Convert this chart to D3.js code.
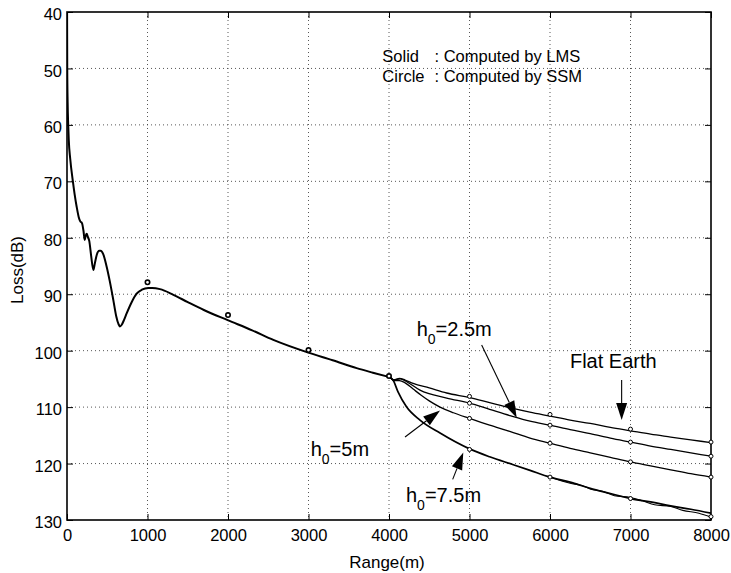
<!DOCTYPE html>
<html>
<head>
<meta charset="utf-8">
<script src="https://cdn.jsdelivr.net/npm/d3@7"></script>
<style>
  html, body { margin: 0; padding: 0; background: #fff; }
  svg { display: block; font-family: "Liberation Sans", Arial, Helvetica, sans-serif; }
</style>
</head>
<body>
<svg id="chart" width="731" height="573"></svg>
<script>
// ---------------- data ----------------
const xTicks = [0, 1000, 2000, 3000, 4000, 5000, 6000, 7000, 8000];
const yTicks = [40, 50, 60, 70, 80, 90, 100, 110, 120, 130];

// common LMS curve (range m, loss dB) up to 4000 m
const mainLMS = [
  [1, 40], [3, 50], [8, 56], [15, 60], [22, 62.7], [40, 66], [71, 69.8], [95, 72.3],
  [120, 74.5], [145, 76.3], [165, 77.1], [186, 77.4], [205, 78.8], [220, 80.4],
  [233, 79.6], [245, 79.3], [258, 79.8], [277, 80.6], [300, 83.2], [327, 85.7],
  [345, 84.6], [370, 83.0], [400, 82.3], [418, 82.3], [450, 82.9], [492, 85.1],
  [530, 87.6], [575, 91.0], [610, 93.8], [640, 95.3], [658, 95.7], [680, 95.4],
  [710, 94.5], [741, 93.4], [800, 91.5], [865, 89.9], [930, 89.2], [1010, 88.9],
  [1060, 88.9], [1155, 89.1], [1321, 90.1], [1500, 91.4], [1700, 92.8], [1996, 94.6],
  [2300, 96.4], [2563, 98.1], [2997, 100.35], [3300, 101.7], [3598, 103.1],
  [3800, 103.9], [4012, 104.7]
];

// branches after 4000 m (LMS)
const flatLMS = [
  [4012, 104.7], [4060, 105.2], [4130, 104.9], [4200, 105.2], [4300, 105.8],
  [4500, 106.6], [4717, 107.5], [5000, 108.3], [5250, 109.2], [5500, 110.1],
  [5750, 110.9], [6000, 111.6], [6250, 112.3], [6500, 112.9], [6750, 113.6],
  [7000, 114.2], [7250, 114.8], [7500, 115.3], [7750, 115.8], [8000, 116.3]
];
const h25LMS = [
  [4012, 104.7], [4060, 105.2], [4140, 105.0], [4220, 105.5], [4385, 107.0],
  [4717, 108.4], [5000, 109.3], [5250, 110.4], [5500, 111.5], [5752, 112.5],
  [6000, 113.2], [6250, 114.0], [6500, 114.7], [6750, 115.5], [7000, 116.2],
  [7250, 116.9], [7500, 117.5], [7750, 118.1], [8000, 118.7]
];
const h5LMS = [
  [4012, 104.7], [4060, 105.3], [4130, 105.3], [4200, 105.7], [4300, 106.8],
  [4400, 107.9], [4500, 108.9], [4634, 110.0], [4800, 111.0], [5000, 112.0],
  [5250, 113.2], [5500, 114.3], [5752, 115.5], [6000, 116.4], [6250, 117.3],
  [6500, 118.1], [6750, 118.9], [7000, 119.7], [7250, 120.4], [7500, 121.1],
  [7750, 121.8], [8000, 122.4]
];
const h75LMS = [
  [4012, 104.7], [4050, 105.2], [4112, 107.3], [4215, 109.9], [4385, 112.3],
  [4634, 114.6], [5000, 117.4], [5250, 118.8], [5544, 120.2], [5752, 121.2],
  [6000, 122.4], [6250, 123.3], [6500, 124.4], [6750, 125.3], [7000, 126.2],
  [7250, 126.8], [7500, 127.5], [7750, 128.1], [8000, 128.8]
];
const h75LMSb = [
  [6000, 122.4], [6250, 123.5], [6400, 123.9], [6500, 124.5], [6650, 124.9],
  [6800, 125.7], [7000, 126.0], [7150, 126.6], [7300, 127.3], [7500, 127.6],
  [7650, 128.3], [7850, 128.8], [8000, 129.5]
];

// SSM circles
const mainSSM = [[1000, 87.9], [2000, 93.7], [3000, 99.9], [4000, 104.5]];
const flatSSM = [[5000, 108.1], [6000, 111.3], [7000, 113.9], [8000, 116.2]];
const h25SSM  = [[5000, 109.3], [6000, 113.2], [7000, 116.2], [8000, 118.7]];
const h5SSM   = [[5000, 112.0], [6000, 116.4], [7000, 119.7], [8000, 122.4]];
const h75SSM  = [[5000, 117.5], [6000, 122.4], [7000, 126.2], [8000, 129.4]];

// annotations: text anchor points and arrows in data units
const legendLines = [["Solid", ": Computed by LMS"], ["Circle", ": Computed by SSM"]];
const labels = [
  { base: "h", sub: "0", rest: "=2.5m", at: [4344, 97.4] },
  { base: "h", sub: "0", rest: "=5m",   at: [3027, 118.65] },
  { base: "h", sub: "0", rest: "=7.5m", at: [4211, 126.75] },
  { base: "Flat Earth", sub: "", rest: "", at: [6248, 103.1] }
];
const arrows = [
  { from: [5151, 99.0],  to: [5586, 111.9] },
  { from: [6890, 105.2], to: [6890, 112.3] },
  { from: [4199, 115.3], to: [4634, 110.6] },
  { from: [4791, 122.8], to: [4923, 118.05] }
];

// ---------------- drawing ----------------
const svg = d3.select("#chart");
const L = 67, R = 711, T = 12, B = 520;
const x = d3.scaleLinear().domain([0, 8000]).range([L, R]);
const y = d3.scaleLinear().domain([40, 130]).range([T, B]);

svg.append("rect").attr("width", 731).attr("height", 573).attr("fill", "#fff");

// grid
const grid = svg.append("g").attr("stroke", "#444").attr("stroke-width", 0.9)
  .attr("stroke-dasharray", "1,3");
grid.selectAll(".gx").data(xTicks.slice(1, -1)).join("line")
  .attr("x1", d => x(d)).attr("x2", d => x(d)).attr("y1", T).attr("y2", B);
grid.selectAll(".gy").data(yTicks.slice(1, -1)).join("line")
  .attr("y1", d => y(d)).attr("y2", d => y(d)).attr("x1", L).attr("x2", R);

// axes
const tickFont = "16.5px";
const axB = svg.append("g").attr("transform", `translate(0,${B})`)
  .call(d3.axisBottom(x).tickValues(xTicks).tickFormat(d3.format("d"))
    .tickSizeInner(-6).tickSizeOuter(0).tickPadding(9));
const axL = svg.append("g").attr("transform", `translate(${L},0)`)
  .call(d3.axisLeft(y).tickValues(yTicks).tickFormat(d3.format("d"))
    .tickSizeInner(-6).tickSizeOuter(0).tickPadding(5));
const axT = svg.append("g").attr("transform", `translate(0,${T})`)
  .call(d3.axisTop(x).tickValues(xTicks).tickFormat("").tickSizeInner(-6).tickSizeOuter(0));
const axR = svg.append("g").attr("transform", `translate(${R},0)`)
  .call(d3.axisRight(y).tickValues(yTicks).tickFormat("").tickSizeInner(-6).tickSizeOuter(0));
[axB, axL, axT, axR].forEach(a => {
  a.select(".domain").remove();
  a.selectAll("line").attr("stroke", "#000").attr("stroke-width", 1);
  a.selectAll("text").attr("fill", "#000").style("font-size", tickFont)
    .style("font-family", '"Liberation Sans", Arial, sans-serif');
});
axL.selectAll("text").attr("dy", "0.46em");

// frame
svg.append("rect").attr("x", L).attr("y", T).attr("width", R - L).attr("height", B - T)
  .attr("fill", "none").attr("stroke", "#000").attr("stroke-width", 1.6);

// axis titles
svg.append("text").attr("x", (L + R) / 2 - 2).attr("y", 568).attr("text-anchor", "middle")
  .style("font-size", "17px").text("Range(m)");
svg.append("text").attr("transform", `translate(23,${(T + B) / 2 + 4}) rotate(-90)`)
  .attr("text-anchor", "middle").style("font-size", "17px").text("Loss(dB)");

// curves
svg.append("clipPath").attr("id", "clip").append("rect")
  .attr("x", L).attr("y", T).attr("width", R - L).attr("height", B - T);
const plot = svg.append("g").attr("clip-path", "url(#clip)");
const line = d3.line().x(d => x(d[0])).y(d => y(d[1])).curve(d3.curveMonotoneX);

const curves = [
  { d: mainLMS, w: 2.0 },
  { d: flatLMS, w: 1.3 },
  { d: h25LMS, w: 1.3 },
  { d: h5LMS, w: 1.3 },
  { d: h75LMS, w: 1.7 },
  { d: h75LMSb, w: 1.1 }
];
plot.selectAll(".curve").data(curves).join("path")
  .attr("d", c => line(c.d)).attr("fill", "none").attr("stroke", "#000")
  .attr("stroke-width", c => c.w).attr("stroke-linejoin", "round");

// SSM circles
const circleSets = [
  { d: mainSSM, r: 2.2, w: 1.6 },
  { d: flatSSM, r: 2.0, w: 1.0 },
  { d: h25SSM, r: 2.0, w: 1.0 },
  { d: h5SSM, r: 2.0, w: 1.0 },
  { d: h75SSM, r: 2.0, w: 1.0 }
];
circleSets.forEach(s => {
  svg.append("g").selectAll("circle").data(s.d).join("circle")
    .attr("cx", d => x(d[0])).attr("cy", d => y(d[1])).attr("r", s.r)
    .attr("fill", "#fff").attr("stroke", "#000").attr("stroke-width", s.w);
});

// legend text
const legX = 3917, colonX = 4565, legY = [48.9, 52.35];
legendLines.forEach((ln, i) => {
  svg.append("text").attr("x", x(legX)).attr("y", y(legY[i])).style("font-size", "16.5px").text(ln[0]);
  svg.append("text").attr("x", x(colonX)).attr("y", y(legY[i])).style("font-size", "16.5px").text(ln[1]);
});

// labels
labels.forEach(lb => {
  const t = svg.append("text").attr("x", x(lb.at[0])).attr("y", y(lb.at[1]))
    .style("font-size", "20px");
  t.append("tspan").text(lb.base);
  if (lb.sub) {
    t.append("tspan").attr("dy", 8).style("font-size", "14px").text(lb.sub);
    t.append("tspan").attr("dy", -8).text(lb.rest);
  }
});

// arrows
arrows.forEach(a => {
  const x1 = x(a.from[0]), y1 = y(a.from[1]), x2 = x(a.to[0]), y2 = y(a.to[1]);
  const ang = Math.atan2(y2 - y1, x2 - x1);
  const len = 17, hw = 5.5;
  const bx = x2 - len * Math.cos(ang), by = y2 - len * Math.sin(ang);
  svg.append("line").attr("x1", x1).attr("y1", y1).attr("x2", bx).attr("y2", by)
    .attr("stroke", "#000").attr("stroke-width", 1.1);
  const px = -Math.sin(ang) * hw, py = Math.cos(ang) * hw;
  svg.append("path")
    .attr("d", `M${x2},${y2}L${bx + px},${by + py}L${bx - px},${by - py}Z`)
    .attr("fill", "#000");
});
</script>
</body>
</html>
